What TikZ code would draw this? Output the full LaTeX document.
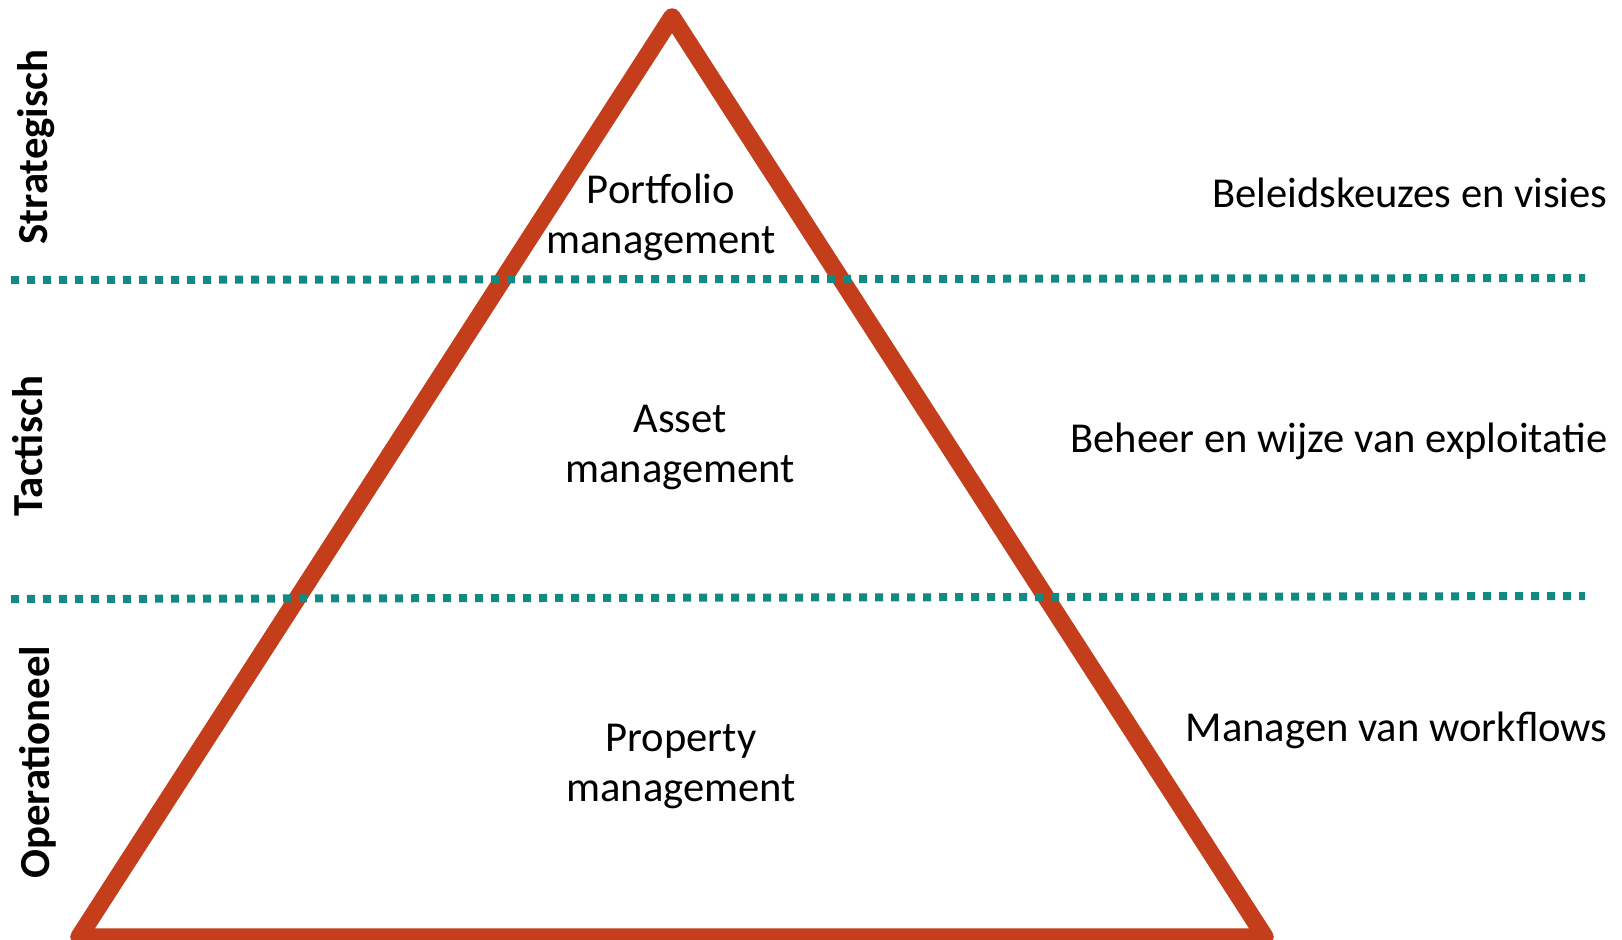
\documentclass[tikz,border=0pt]{standalone}
\usepackage{fontspec}
\setmainfont{Carlito}
\definecolor{pyramidred}{RGB}{196,62,28}
\definecolor{levelteal}{RGB}{19,138,128}

\begin{document}
\begin{tikzpicture}[x=0.5pt,y=-0.5pt,
    every node/.style={inner sep=0pt,font=\fontsize{21.3}{25}\selectfont},
    layer/.style={align=center,anchor=base},
    level/.style={rotate=90,anchor=base,font=\fontsize{21.4}{25}\selectfont\bfseries},
    remark/.style={anchor=base east},
    divider/.style={levelteal,line width=4pt,dash pattern=on 4pt off 4pt}]
  \useasboundingbox (0,0) rectangle (1622,939);
  % pyramid
  \coordinate (top) at (672,17);
  \coordinate (left) at (79,937);
  \coordinate (right) at (1265,937);
  \draw[pyramidred,line width=8.75pt,line join=round] (top) -- (left) -- (right) -- cycle;
  % level boundaries
  \foreach \name/\ya/\yb in {upper/280/278,lower/599/596}{
    \coordinate (\name a) at (11,\ya);
    \coordinate (\name b) at (1585,\yb);
    \draw[divider] (\name a) -- (\name b);
  }
  % texts inside (base = last line)
  \node[layer] (portfolio) at (661,253) {Portfolio\\management};
  \node[layer] (asset) at (680,482) {Asset\\management};
  \node[layer] (property) at (681,801) {Property\\management};
  % levels on the left
  \node[level] (strat) at (47,147) {Strategisch};
  \node[level] (tact) at (42,446) {Tactisch};
  \node[level] (oper) at (49,762) {Operationeel};
  % remarks on the right
  \node[remark] (beleid) at (1608,207) {Beleidskeuzes en visies};
  \node[remark] (beheer) at (1608,452) {Beheer en wijze van exploitatie};
  \node[remark] (workflow) at (1608,741) {Managen van workflows};
\end{tikzpicture}
\end{document}
